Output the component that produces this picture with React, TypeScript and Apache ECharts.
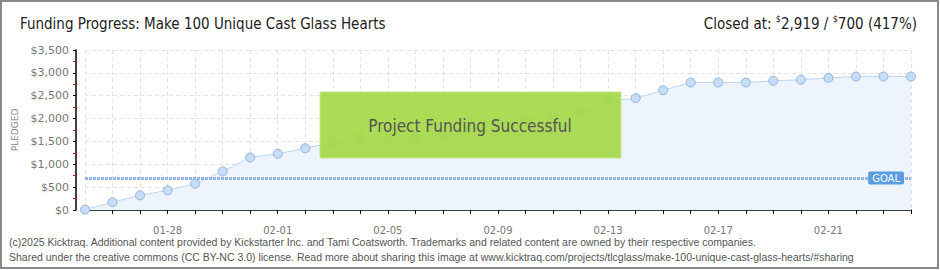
import React, { useEffect, useRef } from "react";
import * as echarts from "echarts";

const dates = [
  "01-25", "01-26", "01-27", "01-28", "01-29", "01-30", "01-31",
  "02-01", "02-02", "02-03", "02-04", "02-05", "02-06", "02-07", "02-08",
  "02-09", "02-10", "02-11", "02-12", "02-13", "02-14", "02-15", "02-16",
  "02-17", "02-18", "02-19", "02-20", "02-21", "02-22", "02-23", "02-24",
];
const pledged = [
  10, 170, 320, 430, 575, 845, 1150,
  1230, 1350, 1480, 1575, 1575, 1580, 1650, 1760,
  1880, 1970, 2060, 2145, 2385, 2445, 2620, 2790,
  2790, 2790, 2825, 2850, 2890, 2919, 2919, 2919,
];
const goal = 700;
const titleText = "Funding Progress: Make 100 Unique Cast Glass Hearts";
const closedAmount = "2,919";
const goalAmount = "700";
const percent = "417%";
const footer1 =
  "(c)2025 Kicktraq. Additional content provided by Kickstarter Inc. and Tami Coatsworth. Trademarks and related content are owned by their respective companies.";
const footer2 =
  "Shared under the creative commons (CC BY-NC 3.0) license. Read more about sharing this image at www.kicktraq.com/projects/tlcglass/make-100-unique-cast-glass-hearts/#sharing";

export default function App() {
  const ref = useRef<HTMLDivElement>(null);
  useEffect(() => {
    if (!ref.current) return;
    const chart = echarts.init(ref.current, undefined, { renderer: "svg" });
    const condensed = "'DejaVu Sans Condensed', 'Liberation Sans Narrow', 'DejaVu Sans', sans-serif";
    chart.setOption({
      animation: false,
      backgroundColor: "#ffffff",
      grid: { left: 85, right: 29, top: 50, bottom: 60, containLabel: false },
      xAxis: {
        type: "category",
        data: dates,
        boundaryGap: false,
        offset: 10,
        axisLine: { lineStyle: { color: "#000", width: 1.5 } },
        axisTick: { show: true, interval: 0, length: 4, lineStyle: { color: "#000", width: 1 } },
        axisLabel: {
          interval: (i: number) => i % 4 === 3,
          color: "#777",
          fontSize: 10,
          fontFamily: "'DejaVu Sans', sans-serif",
          margin: 5,
        },
        splitLine: { show: true, interval: 0, lineStyle: { color: "#e2e2e2", type: [4, 3] } },
      },
      yAxis: {
        type: "value",
        min: 0,
        max: 3500,
        interval: 500,
        offset: 9,
        name: "PLEDGED",
        nameLocation: "middle",
        nameRotate: 90,
        nameGap: 48,
        nameTextStyle: { color: "#888", fontSize: 9, fontFamily: "'DejaVu Sans', sans-serif" },
        axisLine: { show: true, lineStyle: { color: "#000", width: 1.5 } },
        axisTick: { show: true, length: 3, lineStyle: { color: "#000" } },
        minorTick: { show: true, splitNumber: 2, length: 3, lineStyle: { color: "#e00000" } },
        axisLabel: {
          color: "#777",
          fontSize: 11,
          fontFamily: "'DejaVu Sans', sans-serif",
          margin: 7,
          formatter: (v: number) => "$" + v.toLocaleString("en-US"),
        },
        splitLine: { show: true, lineStyle: { color: "#e2e2e2", type: [4, 3] } },
      },
      series: [
        {
          type: "line",
          data: pledged,
          symbol: "circle",
          symbolSize: 9,
          itemStyle: { color: "#c6ddf7", borderColor: "#93b4db", borderWidth: 1 },
          lineStyle: { color: "#bcd5f1", width: 1 },
          areaStyle: { color: "#edf4fd", opacity: 1 },
          z: 3,
          markLine: {
            silent: true,
            symbol: "none",
            lineStyle: { color: "#94b8e2", width: 3, type: [3, 1] },
            data: [{ yAxis: goal }],
            label: {
              show: true,
              position: "insideEnd",
              formatter: "GOAL",
              backgroundColor: "#5b9be0",
              color: "#fff",
              fontSize: 10,
              fontFamily: "'DejaVu Sans', sans-serif",
              padding: [2, 4, 1, 4],
              borderRadius: 2,
              distance: 7,
            },
          },
        },
      ],
      graphic: [
        {
          type: "rect",
          shape: { x: 1, y: 1, width: 937, height: 267 },
          style: { fill: "none", stroke: "#888", lineWidth: 2 },
          z: 100,
        },
        {
          type: "text",
          x: 20,
          y: 24,
          style: {
            text: titleText,
            fontSize: 15,
            fontFamily: condensed,
            fill: "#222",
            verticalAlign: "middle",
          },
        },
        {
          type: "text",
          x: 917,
          y: 24,
          style: {
            text: `{a|Closed at: }{s|$}{a|${closedAmount} / }{s|$}{a|${goalAmount} (${percent})}`,
            align: "right",
            verticalAlign: "middle",
            rich: {
              a: { fontSize: 15, fontFamily: condensed, fill: "#222", lineHeight: 20 },
              s: { fontSize: 9, fontFamily: condensed, fill: "#222", verticalAlign: "top", lineHeight: 20 },
            },
          },
        },
        {
          type: "rect",
          shape: { x: 320, y: 92, width: 301, height: 66 },
          style: { fill: "rgba(163,216,68,0.9)", stroke: "#c4e58a", lineWidth: 1 },
          z: 50,
        },
        {
          type: "text",
          x: 470,
          y: 126,
          z: 51,
          style: {
            text: "Project Funding Successful",
            fontSize: 17,
            fontFamily: condensed,
            fill: "#555",
            align: "center",
            verticalAlign: "middle",
            textShadowColor: "#f4f4f4",
            textShadowOffsetX: -1,
            textShadowOffsetY: 1,
            textShadowBlur: 0,
          },
        },
        {
          type: "text",
          x: 9,
          y: 242,
          style: {
            text: footer1,
            fontSize: 10.5,
            fontFamily: "'Liberation Sans', Arial, sans-serif",
            fill: "#555",
            verticalAlign: "middle",
          },
        },
        {
          type: "text",
          x: 9,
          y: 257,
          style: {
            text: footer2,
            fontSize: 10.5,
            fontFamily: "'Liberation Sans', Arial, sans-serif",
            fill: "#555",
            verticalAlign: "middle",
          },
        },
      ],
    });
    return () => chart.dispose();
  }, []);
  return (
    <div
      ref={ref}
      style={{ position: "fixed", left: 0, top: 0, width: 940, height: 270 }}
    />
  );
}
